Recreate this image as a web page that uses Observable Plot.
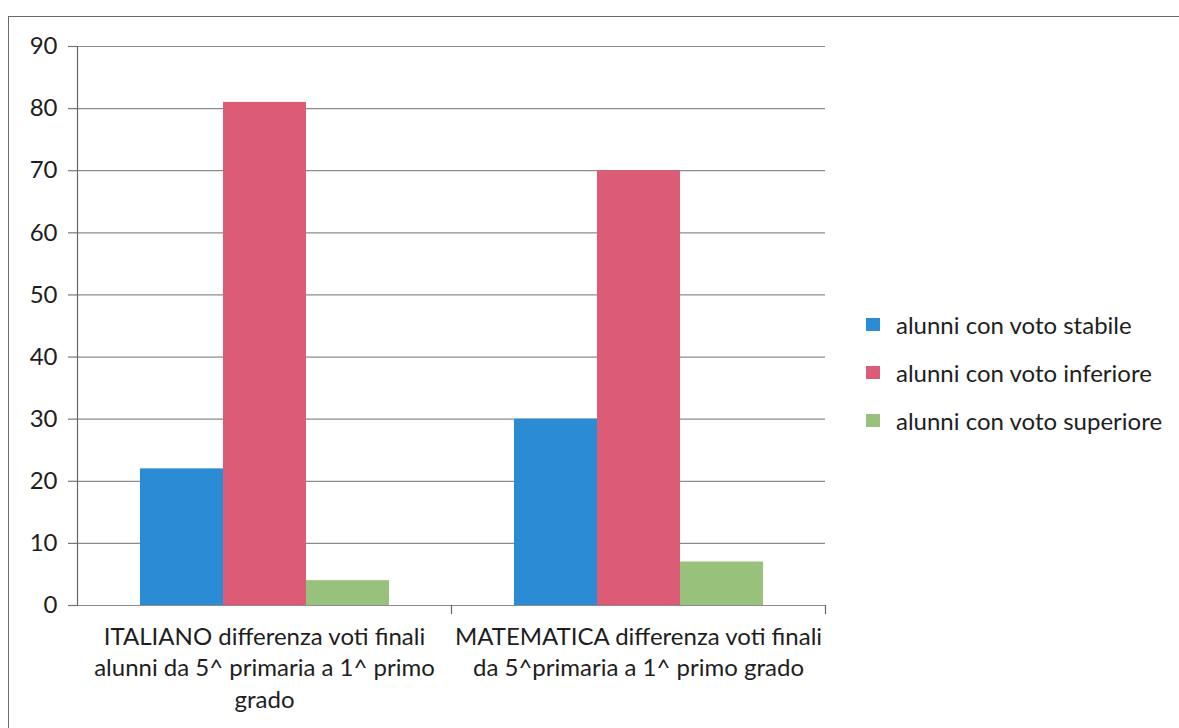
<!DOCTYPE html>
<html>
<head>
<meta charset="utf-8">
<script src="https://cdn.jsdelivr.net/npm/d3@7"></script>
<script src="https://cdn.jsdelivr.net/npm/@observablehq/plot@0.6"></script>
<style>
  html, body { margin: 0; padding: 0; background: #fff; }
  #wrap { position: relative; width: 1179px; height: 728px; overflow: hidden; font-family: Lato, sans-serif; }
  #border { position: absolute; left: 8px; top: 16px; right: -10px; bottom: -10px; border-left: 1.5px solid #6a6a6a; border-top: 1.5px solid #6a6a6a; }
  #chart { position: absolute; left: 0; top: 0; }
  #legend { position: absolute; left: 866px; top: 300px; color: #1e1e1e; font-size: 24px; }
  .item { display: flex; align-items: center; height: 48px; }
  .sw { width: 14px; height: 13px; margin-right: 16px; }
</style>
</head>
<body>
<div id="wrap">
  <div id="border"></div>
  <div id="chart"></div>
  <div id="legend"></div>
</div>
<script>
const groupKeys = ["ITALIANO", "MATEMATICA"];
const groupLabels = [
  "ITALIANO differenza voti finali\nalunni da 5^ primaria a 1^ primo\ngrado",
  "MATEMATICA differenza voti finali\nda 5^primaria a 1^ primo grado"
];
const series = ["alunni con voto stabile", "alunni con voto inferiore", "alunni con voto superiore"];
const stabile = [22, 30];
const inferiore = [81, 70];
const superiore = [4, 7];
const colors = ["#2B8BD4", "#DC5C77", "#98C17B"];
const yTicks = [0, 10, 20, 30, 40, 50, 60, 70, 80, 90];

const values = [stabile, inferiore, superiore];
const data = [];
groupKeys.forEach((g, gi) => {
  series.forEach((s, si) => data.push({group: g, series: s, value: values[si][gi]}));
});

const chart = Plot.plot({
  width: 1179,
  height: 728,
  marginLeft: 77,
  marginRight: 354,
  marginTop: 46,
  marginBottom: 123,
  style: {fontFamily: "Lato, sans-serif", color: "#1e1e1e", background: "transparent", overflow: "visible"},
  fx: {domain: groupKeys, padding: 0, label: null},
  x: {domain: series, paddingInner: 0, paddingOuter: 0.75, axis: null},
  y: {domain: [0, 90], label: null},
  color: {domain: series, range: colors},
  marks: [
    Plot.ruleY(yTicks, {stroke: "#8c8c8c", strokeWidth: 1.2}),
    Plot.barY(data, {fx: "group", x: "series", y: "value", fill: "series"}),
    Plot.axisY({ticks: yTicks, tickSize: 9, tickPadding: 11, label: null, fontSize: 24, stroke: "#777", strokeWidth: 1.2}),
    Plot.frame({anchor: "left", facet: "super", stroke: "#666", strokeWidth: 1.2}),
    Plot.frame({anchor: "right", insetTop: 559, insetBottom: -8, stroke: "#666", strokeWidth: 1.2}),
    Plot.axisFx({anchor: "bottom", tickSize: 0, tickPadding: 17, label: null, fontSize: 24, lineHeight: 1.31,
      tickFormat: (k) => groupLabels[groupKeys.indexOf(k)]})
  ]
});
document.getElementById("chart").appendChild(chart);

const legend = document.getElementById("legend");
series.forEach((s, i) => {
  const it = document.createElement("div");
  it.className = "item";
  const sw = document.createElement("div");
  sw.className = "sw";
  sw.style.background = colors[i];
  const t = document.createElement("span");
  t.textContent = s;
  it.appendChild(sw);
  it.appendChild(t);
  legend.appendChild(it);
});
</script>
</body>
</html>
